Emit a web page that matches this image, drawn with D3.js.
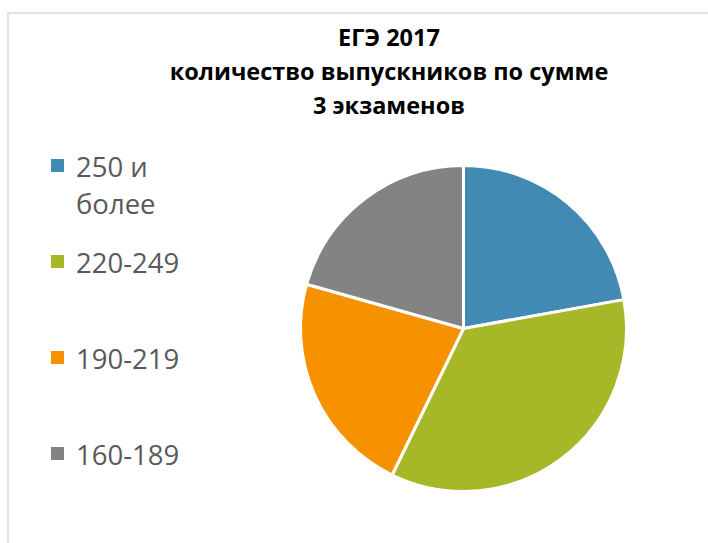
<!DOCTYPE html>
<html>
<head>
<meta charset="utf-8">
<script src="https://cdn.jsdelivr.net/npm/d3@7"></script>
<style>
  html, body { margin: 0; padding: 0; background: #fff; }
  svg { display: block; }
</style>
</head>
<body>
<div id="chart"></div>
<script>
// ЕГЭ 2017 - graduates by sum of 3 exams
const categories = ['250 и более', '220-249', '190-219', '160-189'];
const legendLines = [['250 и', 'более'], ['220-249'], ['190-219'], ['160-189']];
const values = [43, 68, 43, 40];
const colors = ['#418AB3', '#A6B727', '#F69200', '#838383'];
const titleLines = ['ЕГЭ 2017', 'количество выпускников по сумме', '3 экзаменов'];

const W = 708, H = 543;
const svg = d3.select('#chart').append('svg')
  .attr('width', W)
  .attr('height', H);

// chart area border
svg.append('rect')
  .attr('x', 8)
  .attr('y', 13)
  .attr('width', W)
  .attr('height', H)
  .attr('fill', '#fff')
  .attr('stroke', '#d9d9d9')
  .attr('stroke-width', 1.5);

// title
svg.append('g')
  .selectAll('text')
  .data(titleLines)
  .enter()
  .append('text')
  .attr('x', 389)
  .attr('y', (d, i) => 46 + i * 34)
  .attr('text-anchor', 'middle')
  .style('font-family', '"Open Sans", sans-serif')
  .style('font-weight', 'bold')
  .style('font-size', '23.5px')
  .style('fill', '#000')
  .text(d => d);

// pie
const cx = 463.5, cy = 328.5, radius = 163;
const pie = d3.pie().sort(null).value(d => d);
const arc = d3.arc().innerRadius(0).outerRadius(radius);

svg.append('g')
  .attr('transform', 'translate(' + cx + ',' + cy + ')')
  .selectAll('path')
  .data(pie(values))
  .enter()
  .append('path')
  .attr('d', arc)
  .attr('fill', (d, i) => colors[i])
  .attr('stroke', '#fff')
  .attr('stroke-width', 3)
  .attr('stroke-linejoin', 'round');

// legend
const legend = svg.append('g');
const legendY = d3.scaleLinear().domain([0, 1]).range([177, 273]);

categories.forEach((c, i) => {
  let base = legendY(i);
  legend.append('rect')
    .attr('x', 51)
    .attr('y', base - 18)
    .attr('width', 13)
    .attr('height', 13)
    .attr('fill', colors[i]);
  let t = legend.append('text')
    .attr('x', 76)
    .attr('y', base)
    .style('font-family', '"Open Sans", sans-serif')
    .style('font-size', '27.5px')
    .style('fill', '#595959');
  legendLines[i].forEach((line, j) => {
    t.append('tspan')
      .attr('x', 76)
      .attr('dy', j === 0 ? 0 : 37)
      .text(line);
  });
});
</script>
</body>
</html>
